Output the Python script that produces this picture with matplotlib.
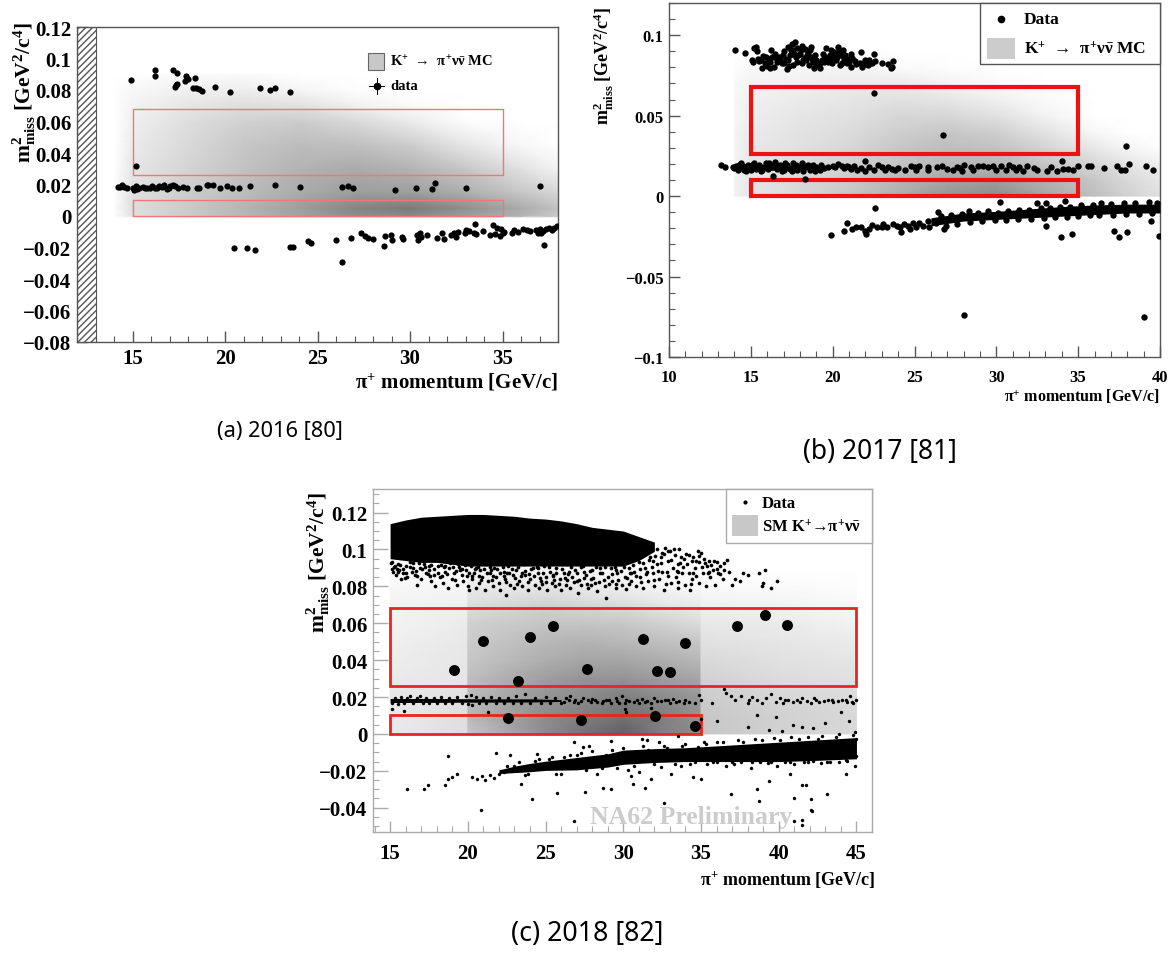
import matplotlib
matplotlib.use('Agg')
import matplotlib.pyplot as plt
import numpy as np
from matplotlib.patches import Rectangle
from matplotlib.ticker import FixedLocator, MultipleLocator

W, H = 1171, 954

plt.rcParams['font.family'] = ['Liberation Serif', 'DejaVu Serif']
plt.rcParams['font.weight'] = 'bold'
plt.rcParams['mathtext.fontset'] = 'custom'
plt.rcParams['mathtext.rm'] = 'Liberation Serif:bold'
plt.rcParams['mathtext.it'] = 'Liberation Serif:bold'
plt.rcParams['mathtext.bf'] = 'Liberation Serif:bold'

# panel (a) 2016
a_points = [
    (14.9, .0865), (16.2, .093), (16.2, .089), (17.2, .093), (17.4, .091), (17.3, .082), (17.4, .084), (17.35, .083),
    (17.85, .086), (17.9, .089), (18.0, .087), (18.25, .081), (18.4, .0875), (18.45, .081), (18.6, .0805), (18.75, .0795),
    (19.45, .082), (20.25, .079), (21.9, .081), (22.45, .080), (22.7, .081), (23.5, .079), (15.2, .0315),
    (14.2, .0185), (14.35, .0185), (14.45, .020), (14.55, .0185), (14.7, .018), (15.05, .018), (15.1, .0165), (15.2, .019),
    (15.25, .017), (15.35, .018), (15.55, .0185), (15.7, .018), (15.8, .0175), (15.95, .018), (16.05, .019), (16.2, .018),
    (16.35, .018), (16.45, .019), (16.6, .0185), (16.7, .0195), (16.85, .017), (16.95, .018), (17.05, .019), (17.2, .020),
    (17.3, .019), (17.45, .018), (17.75, .0185), (17.95, .018), (18.5, .018), (18.6, .018), (19.05, .0195), (19.1, .020),
    (19.35, .0195), (19.75, .018), (20.1, .019), (20.4, .018), (20.75, .018), (21.35, .019), (22.7, .020), (24.05, .0185),
    (26.35, .0185), (26.65, .019), (26.9, .0175), (29.2, .0165), (30.35, .0175), (31.2, .017), (31.35, .021), (33.05, .018),
    (37.0, .019),
    (20.5, -.0205), (21.2, -.0205), (21.6, -.0215), (23.5, -.0195), (23.7, -.0195), (24.5, -.016), (24.65, -.017),
    (26.0, -.015), (26.3, -.029), (26.8, -.014), (27.35, -.0105), (27.55, -.013), (27.75, -.014), (28.0, -.0145),
    (28.6, -.019), (28.65, -.013), (28.95, -.012), (29.0, -.0155), (29.55, -.0135), (29.6, -.0145), (30.4, -.012),
    (30.45, -.015), (30.55, -.011), (30.6, -.0135), (30.9, -.012), (31.45, -.014), (31.75, -.011), (31.85, -.0145),
    (32.2, -.012), (32.4, -.011), (32.5, -.0135), (32.6, -.010), (32.95, -.011), (33.0, -.009), (33.2, -.0095),
    (33.45, -.0105), (33.5, -.005), (33.55, -.0115), (33.95, -.0095), (34.3, -.012), (34.5, -.006), (34.6, -.0115),
    (34.7, -.0075), (34.85, -.013), (34.9, -.0085), (35.0, -.011), (35.1, -.010), (35.5, -.0105), (35.6, -.009),
    (35.85, -.010), (36.1, -.0085), (36.3, -.009), (36.5, -.0095), (36.8, -.009), (36.9, -.0105), (37.0, -.0085),
    (37.1, -.011), (37.2, -.0095), (37.25, -.0185), (37.35, -.0085), (37.5, -.0075), (37.65, -.009), (37.8, -.0075),
    (37.95, -.0065),
]
a_grid_x = [14, 15, 18, 21, 24, 27, 30, 33, 36, 38]
a_grid_y = [-.001, 0, .005, .015, .03, .045, .06, .07, .08, .09]
a_grid = [
    [0, 0, 0, 0, 0, 0, 0, 0, 0, 0],
    [0, .12, .2, .28, .36, .44, .46, .38, .3, .2],
    [0, .13, .21, .29, .38, .48, .52, .44, .33, .24],
    [0, .12, .2, .26, .33, .38, .38, .32, .22, .16],
    [0, .1, .17, .24, .3, .33, .3, .22, .12, .05],
    [0, .08, .15, .22, .26, .25, .2, .1, .03, 0],
    [0, .06, .13, .18, .2, .15, .08, .01, 0, 0],
    [0, .05, .1, .13, .12, .06, .02, 0, 0, 0],
    [0, .03, .06, .07, .04, .01, 0, 0, 0, 0],
    [0, 0, .02, .02, 0, 0, 0, 0, 0, 0],
]

# panel (b) 2017
b_top = [
    (14.05, .0905), (14.65, .089), (15.05, .0845), (15.15, .0835), (15.2, .092), (15.3, .0925), (15.4, .090), (15.45, .0855),
    (15.5, .084), (15.7, .0795), (15.75, .087), (15.85, .0825), (16.0, .081), (16.1, .085), (16.15, .0795), (16.25, .0905),
    (16.3, .0865), (16.4, .080), (16.5, .0885), (16.6, .0835), (16.7, .0865), (16.8, .085), (16.95, .0875), (17.0, .0825),
    (17.05, .090), (17.15, .0855), (17.2, .079), (17.3, .0925), (17.35, .081), (17.4, .0875), (17.5, .0945), (17.55, .0815),
    (17.6, .0905), (17.7, .0955), (17.75, .0865), (17.8, .092), (17.85, .0835), (18.0, .0885), (18.1, .0825), (18.15, .093),
    (18.25, .086), (18.3, .0915), (18.4, .0845), (18.5, .0895), (18.55, .0815), (18.65, .0865), (18.7, .0925), (18.8, .0835),
    (18.85, .0795), (18.95, .0875), (19.05, .0815), (19.2, .0795), (19.35, .0845), (19.4, .0885), (19.55, .0865), (19.6, .092),
    (19.7, .0835), (19.85, .0875), (19.95, .0825), (20.05, .0855), (20.1, .0895), (20.2, .0845), (20.3, .0925), (20.45, .0815),
    (20.5, .0875), (20.65, .0905), (20.7, .085), (20.85, .0825), (21.0, .0835), (21.1, .0885), (21.15, .080), (21.35, .084),
    (21.7, .0825), (21.75, .0895), (21.8, .080), (22.0, .082), (22.2, .0845), (22.3, .0825), (22.5, .0885), (22.6, .084),
    (23.0, .083), (23.4, .082), (23.55, .0795), (23.7, .084), (23.65, .0805),
    (15.6, .0845), (15.95, .0865), (16.2, .0835), (16.55, .086), (16.9, .083), (17.25, .0845), (17.45, .0905), (17.65, .0885),
    (17.9, .0875), (18.05, .0905), (18.2, .0845), (18.45, .0875), (18.6, .0905), (18.75, .0855), (19.0, .0845), (19.25, .083),
    (19.5, .0835), (19.75, .0855), (19.9, .0905), (20.0, .0875), (20.25, .0865), (20.4, .0895), (20.6, .083), (20.75, .0875),
    (20.95, .0855), (21.2, .086), (21.45, .082), (21.95, .0845), (22.15, .0815), (22.4, .083),
]
b_mid = [
    (13.15, .0195), (13.4, .018), (13.9, .018), (14, .0175), (14.1, .0185), (14.2, .0165), (14.3, .0195), (14.5, .0185),
    (14.6, .016), (14.8, .0195), (15, .016), (15.1, .0195), (15.3, .017), (15.5, .0195), (15.7, .016), (15.9, .0205),
    (16.05, .017), (16.35, .0125), (16.3, .0195), (16.6, .017), (16.8, .0195), (17, .0165), (17.2, .0195), (17.4, .017),
    (17.6, .0205), (17.8, .0165), (18, .018), (18.3, .0105), (18.2, .0155), (18.4, .0185), (18.6, .016), (18.8, .0195),
    (19, .018), (19.2, .0165), (19.5, .0175), (19.7, .018), (20.0, .0185), (20.15, .018), (20.3, .020), (20.6, .0185),
    (20.7, .0175), (20.85, .0185), (21, .018), (21.15, .017), (21.3, .0185), (21.5, .016), (21.75, .0175), (22, .0155),
    (22.0, .022), (22.2, .018), (22.5, .0165), (22.8, .0195), (23, .018), (23.2, .0165), (23.4, .018), (23.6, .017),
    (23.8, .016), (24, .0175), (24.4, .016), (24.8, .019), (25, .018), (25.1, .0165), (25.25, .019), (25.8, .0165),
    (25.85, .018), (26.4, .018), (26.7, .0185), (27, .017), (27.35, .0165), (27.6, .018), (27.8, .0175), (27.9, .0155),
    (28.05, .0195), (28.45, .018), (28.6, .0165), (28.9, .0185), (29.2, .019), (29.5, .018), (29.8, .0185), (30, .0165),
    (30.3, .019), (30.6, .0165), (30.8, .0195), (31, .018), (31.2, .0165), (31.4, .018), (31.6, .0155), (31.9, .0185),
    (32.3, .0175), (32.5, .0165), (33.1, .0155), (33.35, .018), (33.7, .0155), (34, .022), (34.1, .017), (34.4, .017),
    (34.7, .0165), (35, .0185), (35.6, .0185), (35.8, .019), (36.55, .0175), (37.35, .0185), (37.6, .0165), (37.85, .016),
    (38.1, .020), (39.15, .0185), (39.6, .0165), (37.95, .031), (22.5, .064), (26.75, .038),
    (14.4, .0205), (14.7, .0155), (15.2, .0205), (15.6, .0155), (16.1, .0205), (16.5, .021), (16.9, .0155), (17.1, .0205),
    (17.5, .0155), (17.75, .0195), (18.1, .0205), (18.5, .0195), (18.9, .0155), (19.3, .0195),
]
b_low = [
    (19.9, -.024), (20.7, -.022), (20.9, -.0165), (21.2, -.0205), (21.4, -.0195), (21.75, -.0195), (22, -.0215), (22.05, -.0235),
    (22.2, -.0205), (22.4, -.018), (22.6, -.0075), (22.7, -.0195), (23, -.019), (23.1, -.0175), (23.3, -.0195), (23.7, -.0175),
    (23.95, -.0185), (24.1, -.019), (24.2, -.0225), (24.35, -.0175), (24.6, -.0185), (24.7, -.0205), (24.9, -.0165), (25.1, -.0195),
    (25.3, -.0165), (25.5, -.0185), (25.8, -.0155), (25.9, -.019), (26.3, -.017), (26.45, -.010), (26.8, -.0205), (28, -.074),
    (39.05, -.075), (33.05, -.0185), (33.95, -.0255), (34.65, -.0235), (37.2, -.0215), (37.5, -.0255), (38, -.0225), (39.45, -.0155),
    (39.95, -.025), (30.25, -.0035), (32.5, -.0045), (33.05, -.0045), (34.2, -.003),
    (26.6, -.0125), (27.2, -.012), (27.9, -.011), (28.3, -.0095), (28.9, -.0105), (29.5, -.0095), (30.1, -.0105), (30.7, -.009),
    (31.4, -.0085), (32, -.0085), (32.7, -.0075), (33.3, -.0075), (33.9, -.0065), (34.5, -.0065), (35.2, -.0055), (35.9, -.0055),
    (36.4, -.0045), (37, -.005), (37.8, -.0045), (38.5, -.0045), (39.3, -.0035), (39.8, -.0045),
    (26.9, -.0185), (27.6, -.0175), (28.4, -.016), (29.1, -.0155), (29.9, -.015), (30.6, -.015), (31.3, -.014), (32.1, -.0145),
    (32.9, -.0135), (33.6, -.013), (34.3, -.013), (35, -.0125), (35.7, -.012), (36.3, -.012), (37.1, -.0115), (37.9, -.011),
    (38.7, -.011), (39.5, -.0105),
]
b_band_x = [26, 28, 30, 32, 34, 36, 38, 40]
b_band_up = [-.0135, -.0105, -.0095, -.008, -.0065, -.0055, -.005, -.005]
b_band_lo = [-.0185, -.0155, -.0145, -.0135, -.0125, -.0115, -.0105, -.0105]
b_midband_x = [13.9, 16, 19.4]
b_midband_up = [.0195, .02, .0185]
b_midband_lo = [.0165, .016, .0165]
b_grid_x = [14, 15, 18, 21, 24, 27, 30, 33, 36, 38, 40]
b_grid_y = [0, .01, .02, .03, .04, .05, .06, .07, .08, .09]
b_grid = [
    [.05, .1, .15, .22, .32, .42, .45, .35, .25, .18, .12],
    [.05, .1, .15, .2, .28, .35, .38, .3, .22, .15, .1],
    [.05, .1, .13, .18, .23, .27, .28, .22, .16, .1, .06],
    [.04, .09, .12, .16, .22, .26, .24, .17, .09, .04, .01],
    [.04, .08, .11, .14, .19, .22, .19, .11, .03, 0, 0],
    [.03, .07, .1, .12, .16, .16, .12, .05, 0, 0, 0],
    [.03, .06, .08, .1, .12, .1, .06, .02, 0, 0, 0],
    [.02, .05, .06, .08, .08, .05, .02, 0, 0, 0, 0],
    [.01, .03, .03, .04, .02, .01, 0, 0, 0, 0, 0],
    [0, 0, .01, .01, 0, 0, 0, 0, 0, 0, 0],
]

# panel (c) 2018
c_signal = [
    (19.1, .0345), (21, .0505), (24, .0525), (25.5, .0585), (23.2, .0285), (27.65, .035), (31.3, .0515), (32.2, .034),
    (33, .0335), (34, .0495), (37.3, .0585), (39.1, .0645), (40.5, .059), (22.6, .0085), (27.3, .0075), (32.05, .0095),
    (34.6, .0045),
]
c_blob_x = [15, 16, 17, 18, 19, 20, 21, 22, 23, 24, 25, 26, 27, 28, 29, 30, 31, 32]
c_blob_up = [.114, .116, .1175, .118, .1185, .119, .119, .1185, .118, .117, .1165, .1155, .114, .112, .111, .110, .107, .104]
c_blob_lo = [.095, .094, .093, .093, .092, .091, .091, .091, .091, .091, .091, .091, .091, .091, .091, .091, .094, .099]
c_fringe = [
    (15.1, .093), (15.2, .088), (15.3, .091), (15.4, .086), (15.5, .092), (15.6, .089), (15.7, .084), (15.8, .087), (16, .091),
    (16.1, .085), (16.3, .093), (16.4, .088), (16.6, .086), (16.7, .081), (16.9, .090), (17, .084), (17.2, .092), (17.3, .087),
    (17.5, .089), (17.6, .083), (17.8, .086), (17.9, .080), (18.1, .091), (18.2, .085), (18.4, .082), (18.5, .088), (18.7, .079),
    (18.8, .090), (19, .084), (19.1, .087), (19.3, .081), (19.4, .092), (19.6, .086), (19.7, .083), (19.9, .089), (20, .080),
    (20.1, .078), (20.2, .091), (20.3, .084), (20.4, .087), (20.5, .079), (20.7, .082), (20.8, .089), (20.9, .085), (21.1, .078),
    (21.2, .092), (21.3, .083), (21.4, .087), (21.6, .080), (21.7, .090), (21.8, .085), (22, .082), (22.1, .078), (22.3, .088),
    (22.4, .084), (22.45, .0755), (22.6, .091), (22.7, .081), (22.9, .086), (23, .079), (23.1, .089), (23.3, .083), (23.5, .080),
    (23.6, .092), (23.7, .086), (23.9, .078), (24, .084), (24.2, .090), (24.3, .081), (24.5, .087), (24.6, .079), (24.7, .083),
    (24.9, .091), (25, .085), (25.1, .078), (25.3, .088), (25.4, .082), (25.6, .080), (25.7, .090), (25.9, .084), (26, .078),
    (26.2, .087), (26.3, .081), (26.4, .092), (26.6, .079), (26.7, .085), (26.9, .089), (27, .083), (27.1, .0765), (27.3, .081),
    (27.4, .091), (27.6, .086), (27.7, .079), (27.9, .084), (28, .089), (28.2, .082), (28.3, .0775), (28.5, .087), (28.6, .092),
    (28.8, .080), (28.9, .0735), (29, .085), (29.2, .090), (29.3, .083), (29.5, .079), (29.6, .087), (29.8, .092), (29.9, .081),
    (30.1, .085), (30.2, .0785), (30.4, .090), (30.5, .083), (30.7, .088), (30.8, .080), (31, .093), (31.1, .085), (31.3, .079),
    (31.4, .090), (31.6, .083), (31.7, .096), (31.9, .087), (32, .080), (32.2, .092), (32.3, .084), (32.5, .098), (32.6, .078),
    (32.8, .088), (32.9, .094), (33.1, .082), (33.2, .090), (33.4, .085), (33.5, .079), (33.7, .096), (33.8, .087), (34, .081),
    (34.1, .092), (34.3, .078), (34.4, .084), (34.6, .090), (34.7, .094), (34.9, .082), (35, .098), (35.1, .087), (35.3, .080),
    (35.4, .091), (35.6, .085), (35.8, .089), (35.9, .081), (36.1, .087), (36.2, .091), (36.4, .084), (36.5, .089), (36.7, .0945),
    (36.8, .088), (37, .081), (37.2, .084), (37.5, .083), (37.7, .087), (38, .086), (38.7, .087), (38.9, .080), (39.1, .089),
    (39.5, .079), (39.9, .083), (39, .082),
    (32.2, .100), (32.7, .101), (33, .099), (33.3, .097), (33.6, .100), (33.9, .095), (34.2, .097), (34.5, .096), (34.8, .099),
    (35.2, .095), (35.5, .094), (32.4, .096), (32.9, .099), (31.5, .099), (31.9, .094), (33.5, .092), (34.9, .093), (36, .093),
    (15.5, .088), (16.5, .090), (17.5, .091), (18.5, .091), (19.5, .089), (20.5, .090), (21.5, .089), (22.5, .087), (23.5, .087),
    (24.5, .090), (25.5, .086), (26.5, .088), (27.5, .088), (28.5, .090), (29.5, .089), (30.5, .087), (31.5, .088), (32.5, .088),
    (33.5, .088), (34.5, .087), (35.5, .088),
]
c_fringe_dense = [
    (15.05, .0925), (15.25, .0905), (15.45, .0895), (15.65, .0915), (15.85, .0895), (16.05, .0875), (16.25, .0905), (16.45, .0925),
    (16.65, .0885), (16.85, .0925), (17.05, .0895), (17.25, .0905), (17.45, .0865), (17.65, .0915), (17.85, .0895), (18.05, .0875),
    (18.25, .0915), (18.45, .0905), (18.65, .0865), (18.85, .0925), (19.05, .0905), (19.25, .0885), (19.45, .0905), (19.65, .0895),
    (19.85, .0915), (20.05, .0875), (20.25, .0855), (20.45, .0895), (20.65, .0905), (20.85, .0835), (21.05, .0895), (21.25, .0875),
    (21.45, .0905), (21.65, .0855), (21.85, .0895), (22.05, .0875), (22.25, .0905), (22.45, .0825), (22.65, .0875), (22.85, .0895),
    (23.05, .0845), (23.25, .0905), (23.45, .0855), (23.65, .0885), (23.85, .0825), (24.05, .0895), (24.25, .0855), (24.45, .0905),
    (24.65, .0845), (24.85, .0875), (25.05, .0825), (25.25, .0905), (25.45, .0855), (25.65, .0875), (25.85, .0815), (26.05, .0895),
    (26.25, .0845), (26.45, .0865), (26.65, .0905), (26.85, .0825), (27.05, .0875), (27.25, .0905), (27.45, .0845), (27.65, .0815),
    (27.85, .0885), (28.05, .0845), (28.25, .0905), (28.45, .0825), (28.65, .0875), (28.85, .0905), (29.05, .0815), (29.25, .0865),
    (29.45, .0905), (29.65, .0835), (29.85, .0885), (30.05, .0905), (30.25, .0845), (30.45, .0875), (30.65, .0915), (30.85, .0855),
    (31.05, .0895), (31.25, .0925), (31.45, .0865), (31.65, .0945), (31.85, .0905), (32.05, .0965), (32.25, .0885), (32.45, .0925),
    (32.65, .0975), (32.85, .0855), (33.05, .0945), (33.25, .1005), (33.45, .0885), (33.65, .0925), (33.85, .0905), (34.05, .0975),
    (34.25, .0875), (34.45, .0935), (34.65, .0855), (34.85, .0965), (35.05, .0905), (35.25, .0925), (35.45, .0875), (35.65, .0915),
    (35.85, .0935), (36.05, .0895), (36.25, .0865), (36.45, .0925),
    (15.15, .0895), (15.95, .0845), (16.75, .0855), (17.55, .0855), (18.35, .0855), (19.15, .0835), (19.95, .0855), (20.75, .0855),
    (21.55, .0835), (22.35, .0855), (23.15, .0815), (23.95, .0865), (24.75, .0815), (25.55, .0835), (26.35, .0835), (27.15, .0835),
    (27.95, .0805), (28.75, .0835), (29.55, .0815), (30.35, .0815), (31.15, .0825), (31.95, .0835), (32.75, .0815), (33.55, .0825),
    (34.35, .0815),
]
c_midband_x = [15, 18, 21, 24, 26]
c_midband_up = [.0192, .0192, .0190, .0190, .0186]
c_midband_lo = [.0170, .0171, .0172, .0173, .0176]
c_mid = [
    (15.1, .0165), (15.3, .0195), (15.5, .016), (15.7, .020), (15.9, .0165), (16.1, .0195), (16.3, .0205), (16.5, .0165),
    (16.7, .0195), (16.9, .0205), (17.1, .017), (17.3, .0195), (17.5, .0165), (17.8, .0195), (18, .017), (18.3, .020),
    (18.5, .0165), (18.8, .0195), (19, .017), (19.3, .020), (19.6, .017), (19.9, .0205), (20, .016), (20.2, .021), (20.3, .0155),
    (20.5, .020), (20.7, .0165), (21, .0195), (21.2, .0165), (21.5, .020), (21.8, .0165), (22, .0195), (22.3, .017), (22.6, .0195),
    (22.9, .0165), (23.1, .0205), (23.4, .0165), (23.7, .0215), (24, .0165), (24.3, .0195), (24.7, .017), (25, .020), (25.3, .017),
    (25.6, .0195), (26, .0165), (26.3, .0195), (26.6, .0205), (26.9, .0185), (27.1, .017), (27.4, .0195), (27.7, .0185), (28, .019),
    (28.3, .0175), (28.6, .0165), (28.9, .0185), (29.2, .017), (29.5, .0195), (29.7, .0165), (29.9, .0205), (30.1, .0165),
    (30.4, .018), (30.7, .0175), (31, .0165), (31.2, .019), (31.5, .018), (31.8, .0165), (32, .0195), (32.4, .018), (32.7, .0185),
    (33, .0165), (33.2, .019), (33.6, .018), (33.9, .0165), (34.2, .0175), (34.6, .0165), (34.9, .021), (35, .0185), (35.7, .0165),
    (36.5, .0245), (36.6, .022), (36.9, .0205), (37.2, .0185), (37.6, .0205), (38, .0165), (38.3, .020), (38.6, .0185), (38.9, .0165),
    (39.2, .0195), (39.5, .0215), (39.8, .0175), (40.1, .0195), (40.3, .0165), (40.6, .0185), (40.9, .0175), (41.2, .0185),
    (41.5, .0195), (41.8, .018), (42.1, .0165), (42.3, .0195), (42.6, .0175), (42.9, .018), (43.2, .0185), (43.5, .0175), (43.8, .018),
    (44.1, .0185), (44.4, .0175), (44.6, .0205), (44.8, .0165), (45, .0185), (15.1, .0135), (15.9, .0125), (21.3, .012), (30.1, .0135),
    (30.2, .012), (31.8, .014),
    (26.2, .0175), (26.5, .0185), (26.8, .0175), (27.3, .018), (27.9, .0175), (28.2, .0185), (28.7, .018), (29.1, .0185), (29.6, .018),
    (30.2, .0185), (30.9, .0185), (31.4, .0175), (32.2, .018), (32.9, .0185), (33.4, .0175), (34, .0185), (38.1, .0185), (40.4, .0185),
    (41.4, .0175), (42.4, .0185), (43.4, .0185), (44.3, .0185), (44.7, .0175),
]
c_low = [
    (16.1, -.030), (17.2, -.030), (17.45, -.0275), (18.55, -.0275), (18.7, -.0245), (19, -.0235), (19.3, -.0215), (18.7, -.012),
    (20.85, -.041), (21.8, -.0105), (22.7, -.0115), (23.45, -.027), (24.15, -.0355), (24.45, -.011), (25.75, -.032), (26.85, -.0475),
    (27.55, -.0315), (28.7, -.0295), (29.2, -.030), (30.6, -.027), (30.5, -.023), (31.4, -.0295), (31.8, -.0245), (32.6, -.0375),
    (35, -.0245), (34.5, -.0235), (36.9, -.0325), (38.6, -.030), (38.7, -.0365), (39.4, -.0255), (40.7, -.022), (41, -.0345),
    (41.5, -.0275), (41.75, -.0275), (42.05, -.0355), (42.15, -.042), (43.1, -.0325), (44.3, -.0215), (41, -.047), (41.5, -.0465),
    (41.5, -.0495), (42.05, -.0415), (26.8, -.0045), (27.4, -.007), (27.8, -.0065), (29.2, -.0038), (31.2, -.0025), (31.5, -.0035),
    (32.3, -.0045), (33.5, -.001), (35, .008), (36, .007), (38, .004), (38.6, .0105), (39.8, .009), (40.9, .005), (41.5, .004),
    (42.2, .003), (43, .006), (44, .012), (44.5, .007), (39.4, .002), (40.2, .0015), (20.3, -.0235), (20.6, -.0245), (20.9, -.023),
    (21.1, -.025), (21.4, -.0225), (21.7, -.024), (22, -.022), (22.3, -.0205), (23, -.0175), (23.7, -.0225), (24.3, -.0145), (25.2, -.0135),
    (25.7, -.0215), (26.2, -.0125), (27, -.0115), (27.6, -.0195), (28.3, -.0215), (28.9, -.0115), (29.6, -.0185), (30.3, -.0195),
    (31, -.0205), (31.6, -.009), (32.4, -.018), (33.1, -.0215), (33.7, -.0175), (34.3, -.0165), (34.8, -.007), (35.4, -.0165),
    (36, -.0155), (36.6, -.0175), (37.1, -.0165), (37.6, -.0155), (38.2, -.0185), (38.8, -.0155), (39.3, -.016), (39.9, -.0175),
    (40.4, -.0155), (41, -.0165), (41.6, -.015), (42.2, -.0145), (42.7, -.016), (43.3, -.0155), (43.9, -.015), (44.4, -.0145),
    (44.9, -.0175), (37.4, -.0035), (38.5, -.003), (39.7, -.002), (40.8, -.0015), (41.9, -.0015), (42.8, -.001), (43.9, 0), (44.9, .001),
    (36, -.0045), (35.3, -.0055), (33.8, -.0065), (32.8, -.0075),
    (22.5, -.0175), (23.3, -.0155), (23.9, -.0215), (24.6, -.0135), (25.4, -.0125), (26, -.0215), (26.6, -.0115), (27.3, -.0105),
    (28, -.0095), (28.6, -.0185), (29.3, -.0085), (30, -.0075), (30.7, -.0175), (31.3, -.0065), (32, -.0165), (32.6, -.0065),
    (33.3, -.0165), (34, -.0055), (34.6, -.0155), (35.2, -.0045), (35.8, -.0155), (36.4, -.0045), (37, -.0155), (37.7, -.0045),
    (38.3, -.0155), (38.9, -.0035), (39.5, -.0155), (40.1, -.0035), (40.7, -.0155), (41.3, -.0025), (41.9, -.015), (42.5, -.0025),
    (43.1, -.015), (43.7, -.0015), (44.3, -.014), (44.8, -.0005), (44.95, -.012), (44.95, -.003),
]
c_band_x = [22, 23, 24, 25, 27, 29, 30, 32, 34, 36, 38, 40, 42, 45]
c_band_up = [-.0195, -.0175, -.016, -.0148, -.0128, -.0108, -.0088, -.008, -.0075, -.0065, -.0055, -.0045, -.0035, -.002]
c_band_lo = [-.0215, -.021, -.0205, -.0198, -.0195, -.018, -.0165, -.0155, -.015, -.015, -.015, -.015, -.0145, -.0135]
c_grid_y = [0, .01, .02, .03, .04, .05, .06, .07, .08, .09]
c_seg1_x = [15, 20]
c_seg1 = [[.08, .13], [.08, .13], [.09, .12], [.08, .1], [.07, .1], [.06, .09], [.05, .08], [.05, .06], [.03, .04], [0, 0]]
c_seg2_x = [20, 25, 27.5, 30, 32.5, 35]
c_seg2 = [
    [.22, .45, .55, .62, .5, .45],
    [.28, .45, .5, .55, .5, .42],
    [.26, .42, .45, .5, .45, .4],
    [.25, .38, .42, .42, .38, .35],
    [.22, .32, .35, .35, .32, .28],
    [.2, .28, .3, .28, .25, .22],
    [.18, .23, .23, .22, .18, .14],
    [.13, .18, .16, .14, .1, .08],
    [.08, .1, .08, .06, .04, .02],
    [.02, .03, .02, .01, 0, 0],
]
c_seg3_x = [35, 40, 45]
c_seg3 = [[.22, .18, .15], [.22, .18, .15], [.2, .16, .14], [.18, .14, .12], [.15, .12, .1], [.12, .1, .08], [.09, .08, .05], [.06, .05, .03], [.02, .02, .01], [0, 0, 0]]

fig = plt.figure(figsize=(W / 100, H / 100), dpi=100)


def make_axes(left, top, right, bottom, xlim, ylim, xmajor, ymajor, xminor, yminor, edge, size, xpad):
    ax = fig.add_axes([left / W, 1 - bottom / H, (right - left) / W, (bottom - top) / H])
    ax.set_xlim(*xlim)
    ax.set_ylim(*ylim)
    ax.xaxis.set_major_locator(FixedLocator(xmajor))
    ax.yaxis.set_major_locator(FixedLocator(ymajor))
    ax.set_xticklabels([str(v) for v in xmajor])
    ax.xaxis.set_minor_locator(MultipleLocator(xminor))
    ax.yaxis.set_minor_locator(MultipleLocator(yminor))
    ax.tick_params(which='major', direction='in', length=8, width=1, color=edge, labelsize=size, pad=4)
    ax.tick_params(axis='x', which='major', pad=xpad)
    ax.tick_params(which='minor', direction='in', length=4.5, width=0.8, color=edge)
    for spine in ax.spines.values():
        spine.set_color(edge)
        spine.set_linewidth(1)
    return ax


def dots(ax, pts, size, zorder=3):
    xs, ys = zip(*pts)
    ax.scatter(xs, ys, s=size, c='black', linewidths=0, zorder=zorder)


def put(x, y, s, size, **kw):
    fig.text(x / W, 1 - y / H, s, fontsize=size, **kw)


def shade(ax, x, y, z):
    ax.pcolormesh(x, y, np.array(z), shading='gouraud', cmap='gray_r', vmin=0, vmax=1, zorder=1, rasterized=True)


def boxes(ax, spans, color, lw):
    for x0, x1, y0, y1 in spans:
        ax.add_patch(Rectangle((x0, y0), x1 - x0, y1 - y0, fill=False, edgecolor=color, linewidth=lw, zorder=2))


# (a)
ax_a = make_axes(77, 28, 558, 343, (12, 38), (-.08, .12), [15, 20, 25, 30, 35],
                 [-.08, -.06, -.04, -.02, 0, .02, .04, .06, .08, .1, .12], 1, .01, '#555555', 15, 4)
ax_a.set_yticklabels(['\u22120.08', '\u22120.06', '\u22120.04', '\u22120.02', '0', '0.02', '0.04', '0.06', '0.08', '0.1', '0.12'])
shade(ax_a, a_grid_x, a_grid_y, a_grid)
ax_a.add_patch(Rectangle((12, -.08), 1, .2, facecolor='white', edgecolor='#555555', hatch='/////', linewidth=0.8, zorder=2))
boxes(ax_a, [(15, 35, .026, .068), (15, 35, 0, .01)], '#ee7777', 1)
dots(ax_a, a_points, 20)
put(558, 389, '\u03c0$^{+}$ momentum [GeV/c]', 15, ha='right', va='baseline')
put(24, 93, 'm$^{2}_{\\mathrm{miss}}$ [GeV$^{2}$/c$^{4}$]', 15.5, rotation=90, ha='center', va='center')
fig.patches.append(Rectangle((368 / W, 1 - 71 / H), 16 / W, 17 / H, transform=fig.transFigure, facecolor='#c8c8c8', edgecolor='#666666', linewidth=0.8))
put(390, 62, 'K$^{+}$  \u2192  \u03c0$^{+}$\u03bd$\\bar{\\mathrm{\\nu}}$ MC', 10.5, va='center')
fig.add_artist(plt.Line2D([369 / W, 384 / W], [1 - 87 / H, 1 - 87 / H], color='black', lw=0.7))
fig.add_artist(plt.Line2D([377 / W, 377 / W], [1 - 95 / H, 1 - 79 / H], color='black', lw=0.7))
fig.add_artist(plt.Line2D([377 / W], [1 - 87 / H], marker='o', ms=4.5, color='black', lw=0))
put(390, 87, 'data', 10.5, va='center')
put(217, 432, '(a) 2016 [80]', 15.7, family='Noto Sans', weight='normal', va='center')

# (b)
ax_b = make_axes(669, 4, 1160, 358, (10, 40), (-.1, .12), [10, 15, 20, 25, 30, 35, 40],
                 [-.1, -.05, 0, .05, .1], 1, .01, '#555555', 12, 9)
ax_b.set_yticklabels(['\u22120.1', '\u22120.05', '0', '0.05', '0.1'])
shade(ax_b, b_grid_x, b_grid_y, b_grid)
boxes(ax_b, [(15, 35, .026, .068), (15, 35, 0, .01)], '#ee1111', 3)
ax_b.fill_between(b_band_x, b_band_lo, b_band_up, color='black', linewidth=0, zorder=3)
ax_b.fill_between(b_midband_x, b_midband_lo, b_midband_up, color='black', linewidth=0, zorder=3)
dots(ax_b, b_top, 21)
dots(ax_b, b_mid, 21)
dots(ax_b, b_low, 21)
fig.patches.append(Rectangle((980 / W, 1 - 65 / H), 180 / W, 61 / H, transform=fig.transFigure, facecolor='white', edgecolor='#555555', linewidth=1, zorder=5))
fig.add_artist(plt.Line2D([1001 / W], [1 - 20 / H], marker='o', ms=4.5, color='black', lw=0, zorder=6))
put(1024, 20, 'Data', 12.5, va='center', zorder=6)
fig.patches.append(Rectangle((987 / W, 1 - 60 / H), 28 / W, 21 / H, transform=fig.transFigure, facecolor='#cccccc', edgecolor='none', zorder=6))
put(1024, 50, 'K$^{+}$  \u2192  \u03c0$^{+}$\u03bd$\\bar{\\mathrm{\\nu}}$ MC', 12.5, va='center', zorder=6)
put(1160, 402, '\u03c0$^{+}$ momentum [GeV/c]', 11.5, ha='right', va='baseline')
put(604, 66, 'm$^{2}_{\\mathrm{miss}}$ [GeV$^{2}$/c$^{4}$]', 13, rotation=90, ha='center', va='center')
put(803, 452, '(b) 2017 [81]', 19, family='Noto Sans', weight='normal', va='center')

# (c)
ax_c = make_axes(373, 490, 872, 833, (13.9, 46), (-.0532, .1328), [15, 20, 25, 30, 35, 40, 45],
                 [-.04, -.02, 0, .02, .04, .06, .08, .1, .12], 1, .005, '#aaaaaa', 15, 8)
ax_c.set_yticklabels(['\u22120.04', '\u22120.02', '0', '0.02', '0.04', '0.06', '0.08', '0.1', '0.12'])
ax_c.tick_params(axis='y', which='major', length=11)
shade(ax_c, c_seg1_x, c_grid_y, c_seg1)
shade(ax_c, c_seg2_x, c_grid_y, c_seg2)
shade(ax_c, c_seg3_x, c_grid_y, c_seg3)
boxes(ax_c, [(15, 45, .026, .068), (15, 35, 0, .01)], '#ee2222', 2)
ax_c.fill_between(c_blob_x, c_blob_lo, c_blob_up, color='black', linewidth=0, zorder=3)
ax_c.fill_between(c_band_x, c_band_lo, c_band_up, color='black', linewidth=0, zorder=3)
ax_c.fill_between(c_midband_x, c_midband_lo, c_midband_up, color='black', linewidth=0, zorder=3)
dots(ax_c, c_fringe, 7)
dots(ax_c, c_fringe_dense, 7)
dots(ax_c, c_mid, 6)
dots(ax_c, c_low, 6)
dots(ax_c, c_signal, 62, zorder=4)
put(590, 818, 'NA62 Preliminary', 18.5, color='#cccccc', va='center', zorder=1)
fig.patches.append(Rectangle((726 / W, 1 - 544 / H), 146 / W, 54 / H, transform=fig.transFigure, facecolor='white', edgecolor='#aaaaaa', linewidth=1, zorder=5))
fig.add_artist(plt.Line2D([745 / W], [1 - 503 / H], marker='o', ms=2, color='black', lw=0, zorder=6))
put(762, 504, 'Data', 12, va='center', zorder=6)
fig.patches.append(Rectangle((732 / W, 1 - 537 / H), 26 / W, 21 / H, transform=fig.transFigure, facecolor='#c8c8c8', edgecolor='none', zorder=6))
put(762, 528, 'SM K$^{+}$\u2192\u03c0$^{+}$\u03bd$\\bar{\\mathrm{\\nu}}$', 12, va='center', zorder=6)
put(875, 885, '\u03c0$^{+}$ momentum [GeV/c]', 13, ha='right', va='baseline')
put(318, 563, 'm$^{2}_{\\mathrm{miss}}$ [GeV$^{2}$/c$^{4}$]', 15.5, rotation=90, ha='center', va='center')
put(511, 934, '(c) 2018 [82]', 19.3, family='Noto Sans', weight='normal', va='center')

fig.savefig('out.png', dpi=100)
